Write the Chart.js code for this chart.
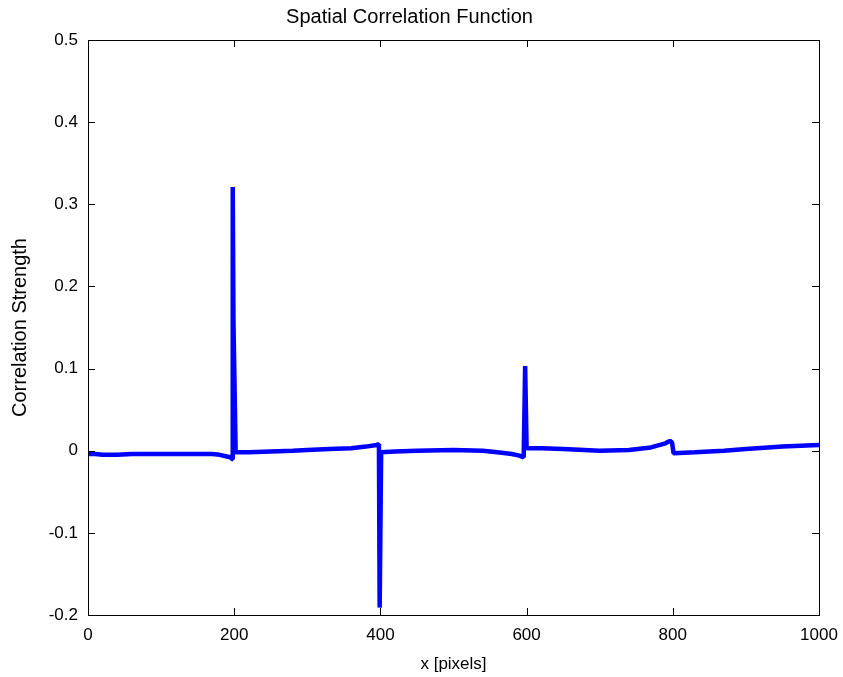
<!DOCTYPE html>
<html>
<head>
<meta charset="utf-8">
<script src="https://cdn.jsdelivr.net/npm/chart.js@4.4.0/dist/chart.umd.min.js"></script>
<style>
html,body{margin:0;padding:0;background:#fff;}
#wrap{width:843px;height:677px;}
</style>
</head>
<body>
<div id="wrap"><canvas id="c" width="843" height="677"></canvas></div>
<script>
const xValues = [0, 10, 20, 40, 60, 100, 140, 170, 180, 190, 195, 197, 198, 199, 202, 220, 250, 280, 300, 330, 360, 380, 395, 398, 399, 401, 420, 450, 500, 540, 560, 580, 590, 596, 597, 598, 600, 620, 650, 700, 740, 770, 790, 796, 799, 801, 830, 870, 900, 950, 1000];
const yValues = [-0.004, -0.004, -0.005, -0.005, -0.004, -0.004, -0.004, -0.004, -0.005, -0.007, -0.008, -0.01, 0.321, 0.157, -0.002, -0.002, -0.001, 0.0, 0.001, 0.002, 0.003, 0.005, 0.007, 0.008, -0.191, -0.002, -0.001, 0.0, 0.001, 0.0, -0.002, -0.004, -0.006, -0.008, 0.046, 0.103, 0.003, 0.003, 0.002, 0.0, 0.001, 0.004, 0.009, 0.012, 0.01, -0.003, -0.002, 0.0, 0.002, 0.005, 0.007];
const xTicks = [0, 200, 400, 600, 800, 1000];
const yTicks = [-0.2, -0.1, 0, 0.1, 0.2, 0.3, 0.4, 0.5];

const points = xValues.map((x, i) => ({x: x, y: yValues[i]}));
const FONT = "'Liberation Sans', Arial, sans-serif";

const framePlugin = {
  id: 'frame',
  afterDatasetsDraw(chart) {
    const {ctx, chartArea: a, scales} = chart;
    ctx.save();
    ctx.strokeStyle = '#000';
    ctx.lineWidth = 1;
    const tl = 7;
    ctx.beginPath();
    xTicks.forEach(v => {
      const px = Math.round(scales.x.getPixelForValue(v)) + 0.5;
      ctx.moveTo(px, a.bottom); ctx.lineTo(px, a.bottom - tl);
      ctx.moveTo(px, a.top); ctx.lineTo(px, a.top + tl);
    });
    yTicks.forEach(v => {
      const py = Math.round(scales.y.getPixelForValue(v)) + 0.5;
      ctx.moveTo(a.left, py); ctx.lineTo(a.left + tl, py);
      ctx.moveTo(a.right, py); ctx.lineTo(a.right - tl, py);
    });
    ctx.stroke();
    ctx.strokeRect(Math.round(a.left) + 0.5, Math.round(a.top) + 0.5, Math.round(a.right - a.left), Math.round(a.bottom - a.top));
    ctx.restore();
  }
};

new Chart(document.getElementById('c'), {
  type: 'line',
  data: {
    datasets: [{
      data: points,
      borderColor: '#0000ff',
      borderWidth: 4.5,
      pointRadius: 0,
      tension: 0,
      borderJoinStyle: 'bevel',
      fill: false
    }]
  },
  options: {
    responsive: false,
    animation: false,
    layout: {padding: {left: 0, right: 24, top: 0, bottom: 0}},
    plugins: {
      legend: {display: false},
      tooltip: {enabled: false},
      title: {
        display: true,
        text: 'Spatial Correlation Function',
        color: '#000',
        font: {family: FONT, size: 20, weight: 'normal'},
        padding: {top: 5, bottom: 11}
      }
    },
    scales: {
      x: {
        type: 'linear',
        min: 0, max: 1000,
        grid: {display: false},
        border: {display: false},
        afterBuildTicks(s) { s.ticks = xTicks.map(v => ({value: v})); },
        afterFit(s) { s.height = 62; },
        ticks: {color: '#000', font: {family: FONT, size: 17}, padding: 2, maxRotation: 0,
          callback: v => String(v)},
        title: {display: true, text: 'x [pixels]', color: '#000', font: {family: FONT, size: 17}, padding: {top: 10, bottom: 2}}
      },
      y: {
        type: 'linear',
        min: -0.2, max: 0.5,
        grid: {display: false},
        border: {display: false},
        afterBuildTicks(s) { s.ticks = yTicks.map(v => ({value: v})); },
        afterFit(s) { s.width = 88; },
        ticks: {color: '#000', font: {family: FONT, size: 17}, padding: 2,
          callback: v => String(Math.round(v * 10) / 10)},
        title: {display: true, text: 'Correlation Strength', color: '#000', font: {family: FONT, size: 20}, padding: {top: 8, bottom: 4}}
      }
    }
  },
  plugins: [framePlugin]
});
</script>
</body>
</html>
